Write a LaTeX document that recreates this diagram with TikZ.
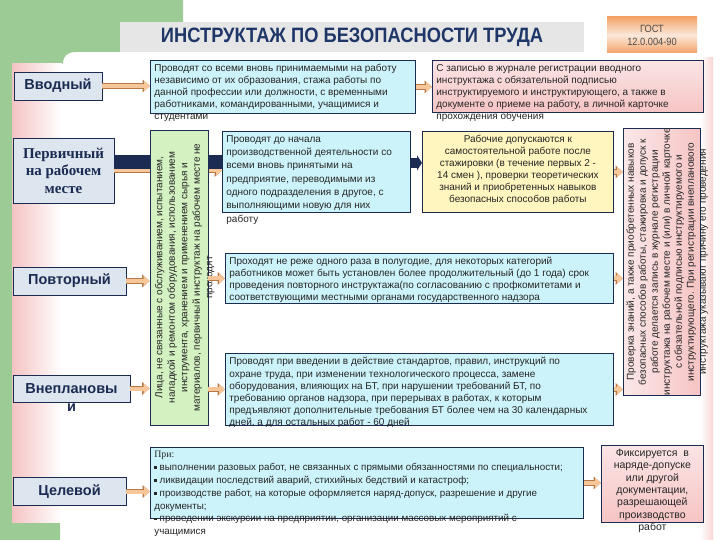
\documentclass[tikz,border=0pt]{standalone}
\usepackage{fontspec}
\setmainfont{Liberation Sans}
\newfontfamily\serifrm{Liberation Serif}
\newfontfamily\narrowsf[FakeStretch=0.88]{Liberation Sans}
\usetikzlibrary{positioning,arrows.meta}

\definecolor{slidegreen}{HTML}{9CCB96}
\definecolor{navy}{HTML}{1B2B52}
\definecolor{labelfill}{HTML}{DDE5EF}
\definecolor{cyanfill}{HTML}{CDF3FA}
\definecolor{pinkfill}{HTML}{F6C4C4}
\definecolor{yellowfill}{HTML}{FFF5BE}
\definecolor{greenfill}{HTML}{D4F1C2}
\definecolor{peach}{HTML}{F7C79A}
\definecolor{peachedge}{HTML}{B47A4A}
\definecolor{titlegray}{HTML}{E6E6E6}
\definecolor{titleblue}{HTML}{1E3768}
\definecolor{gostorange}{HTML}{F3A36A}
\definecolor{pinkstrip}{HTML}{F5C3C3}

% box of fixed size, text may run out at the bottom
\def\fixbox#1#2#3{\parbox[c][#2][t]{#1}{\raggedright #3}}
\def\fixboxc#1#2#3{\parbox[c][#2][t]{#1}{\centering #3}}
\def\sq{\rule[1.6pt]{2.6pt}{2.6pt}}

\begin{document}
\begin{tikzpicture}[x=1pt,y=-1pt,
  kind/.style={draw=navy, line width=0.8pt, fill=labelfill, text=navy, inner sep=0pt,
    minimum height=28pt, font=\fontsize{14.5}{17}\selectfont\bfseries},
  info/.style={draw=navy, line width=0.8pt, inner sep=4pt, anchor=north west,
    text=black!85, font=\fontsize{10}{12}\selectfont},
  arr/.style={line width=4pt, draw=peach, -{Triangle[length=6pt,width=10pt]},
    preaction={draw=peachedge, line width=5.6pt, -{Triangle[length=7.5pt,width=12.5pt]}}},
  navyarr/.style={line width=10pt, draw=navy, -{Triangle[length=5pt,width=15pt]}},
]
\useasboundingbox (0,0) rectangle (720,540);

% slide background
\fill[slidegreen] (0,0) -- (183,0) -- (183,52) -- (76,52) .. controls (67,52) and (63,56) .. (63,64)
  -- (12,64) -- (12,522) -- (60,522) -- (60,540) -- (0,540) -- cycle;
\shade[left color=pinkstrip, right color=white] (12,64) rectangle (62,522);
\shade[left color=white, right color=pinkstrip!70] (700,58) rectangle (713,540);

% header
\node[fill=titlegray, minimum width=464pt, minimum height=30pt, text=titleblue,
  font=\narrowsf\bfseries\fontsize{20.8}{21}\selectfont] (title) at (352,37) {ИНСТРУКТАЖ ПО БЕЗОПАСНОСТИ ТРУДА};
\node[top color=gostorange, bottom color=gostorange, middle color=gostorange!25, minimum width=90pt,
  minimum height=36pt, inner sep=0pt, align=center, text=black!70,
  font=\narrowsf\fontsize{10.5}{13}\selectfont] (gost) at (652,35) {ГОСТ\\12.0.004-90};

% kinds of instruction
\node[kind, minimum width=88pt] (vvod) at (58,86) {Вводный};
\node[kind, minimum width=101pt, minimum height=65pt, align=center,
  font=\serifrm\bfseries\fontsize{15}{17.5}\selectfont] (perv) at (63.5,170.5) {Первичный\\на рабочем\\месте};
\node[kind, minimum width=113pt] (povt) at (69.5,281) {Повторный};
\node[kind, minimum width=117pt, minimum height=27pt] (vnepl) at (71.5,388.5)
  {\fixboxc{117pt}{10.4pt}{Внеплановы\\[1pt]и}};
\node[kind, minimum width=113pt] (cel) at (69.5,491.5) {Целевой};

% descriptions
\node[info, fill=cyanfill] (vvtext) at (150,60) {\fixbox{257pt}{45pt}{%
  Проводят со всеми вновь принимаемыми на работу\\
  независимо от их образования, стажа работы по\\
  данной профессии или должности, с временными\\
  работниками, командированными, учащимися и\\
  студентами}};
\node[info, top color=pinkfill!45, bottom color=pinkfill] (vvjournal) at (432,60) {\fixbox{263pt}{44pt}{%
  С записью в журнале регистрации вводного\\
  инструктажа с обязательной подписью\\
  инструктируемого и инструктирующего, а также в\\
  документе о приеме на работу, в личной карточке\\
  прохождения обучения}};
\node[info, fill=cyanfill, font=\fontsize{10}{13.3}\selectfont] (pervtext) at (222,131) {\fixbox{180pt}{73pt}{%
  Проводят до начала\\
  производственной деятельности со\\
  всеми вновь принятыми на\\
  предприятие, переводимыми из\\
  одного подразделения в другое, с\\
  выполняющими новую для них\\
  работу}};
\node[info, fill=yellowfill] (stazh) at (422,131) {\fixboxc{183pt}{73pt}{%
  Рабочие допускаются к\\
  самостоятельной работе после\\
  стажировки (в течение первых 2 -\\
  14 смен ), проверки теоретических\\
  знаний и приобретенных навыков\\
  безопасных способов работы}};
\node[info, fill=cyanfill] (povttext) at (225,253) {\fixbox{380pt}{42pt}{%
  Проходят не реже одного раза в полугодие, для некоторых категорий\\
  работников может быть установлен более продолжительный (до 1 года) срок\\
  проведения повторного инструктажа(по согласованию с профкомитетами и\\
  соответствующими местными органами государственного надзора}};
\node[info, fill=cyanfill, font=\fontsize{10}{12.2}\selectfont] (vneptext) at (225,353) {\fixbox{380pt}{64pt}{%
  Проводят при введении в действие стандартов, правил, инструкций по\\
  охране труда, при изменении технологического процесса, замене\\
  оборудования, влияющих на БТ, при нарушении требований БТ, по\\
  требованию органов надзора, при перерывах в работах, к которым\\
  предъявляют дополнительные требования БТ более чем на 30 календарных\\
  дней, а для остальных работ - 60 дней}};
\node[info, fill=cyanfill, font=\fontsize{9.8}{12.8}\selectfont] (celtext) at (150,447) {\fixbox{425pt}{63pt}{%
  {\serifrm При:}\\
  \sq{} выполнении разовых работ, не связанных с прямыми обязанностями по специальности;\\
  \sq{} ликвидации последствий аварий, стихийных бедствий и катастроф;\\
  \sq{} производстве работ, на которые оформляется наряд-допуск, разрешение и другие\\
  документы;\\
  \sq{} проведении экскурсии на предприятии, организации массовых мероприятий с\\
  учащимися}};
\node[info, top color=pinkfill!45, bottom color=pinkfill, font=\fontsize{10.5}{12.3}\selectfont] (fiks) at (601,445)
  {\fixboxc{94pt}{69pt}{%
  Фиксируется\ \ в\\
  наряде-допуске\\
  или другой\\
  документации,\\
  разрешающей\\
  производство\\
  работ}};
\node[info, inner xsep=3pt, inner ysep=0pt, left color=pinkfill!40, right color=pinkfill] (itog) at (623,128)
  {\rotatebox{90}{\fixboxc{267pt}{71pt}{%
  Проверка знаний, а также приобретенных навыков\\
  безопасных способов работы, стажировка и допуск к\\
  работе делается запись в журнале регистрации\\
  инструктажа на рабочем месте и (или) в личной карточке\\
  с обязательной подписью инструктируемого и\\
  инструктирующего. При регистрации внепланового\\
  инструктажа указывают причину его проведения}}};

% primary instruction goes under the green box
\draw[arr] (perv.east) -- (perv.east -| pervtext.west);
\fill[navy] ([yshift=15pt]perv.east) rectangle ([yshift=1pt]perv.east -| pervtext.west);
\draw[navyarr] ([yshift=9pt]pervtext.east) -- ([yshift=9pt]pervtext.east -| stazh.west);

\node[info, anchor=center, fill=greenfill, inner xsep=5pt, inner ysep=0pt, font=\fontsize{10}{12.5}\selectfont] (lica) at (179,277.5)
  {\rotatebox{90}{\fixboxc{295pt}{48pt}{%
  Лица, не связанные с обслуживанием, испытанием,\\
  наладкой и ремонтом оборудования, использованием\\
  инструмента, хранением и применением сырья и\\
  материалов, первичный инструктаж на рабочем месте не\\
  проходят}}};

% connectors
\draw[arr] (vvod.east) -- (vvod.east -| vvtext.west);
\draw[arr] (vvtext.east) -- (vvtext.east -| vvjournal.west);
\draw[arr] (povt.east) -- (povt.east -| lica.west);
\draw[arr] (lica.east |- povttext.west) -- (povttext.west);
\draw[arr] (vnepl.east) -- (vnepl.east -| lica.west);
\draw[arr] (lica.east |- vneptext.west) -- (vneptext.west);
\draw[arr] (cel.east) -- (cel.east -| celtext.west);
\draw[arr] (celtext.east) -- (celtext.east -| fiks.west);
\draw[arr] (stazh.east) -- (stazh.east -| itog.west);
\draw[arr] (povttext.east) -- (povttext.east -| itog.west);
\draw[arr] (vneptext.east) -- (vneptext.east -| itog.west);

\end{tikzpicture}
\end{document}
